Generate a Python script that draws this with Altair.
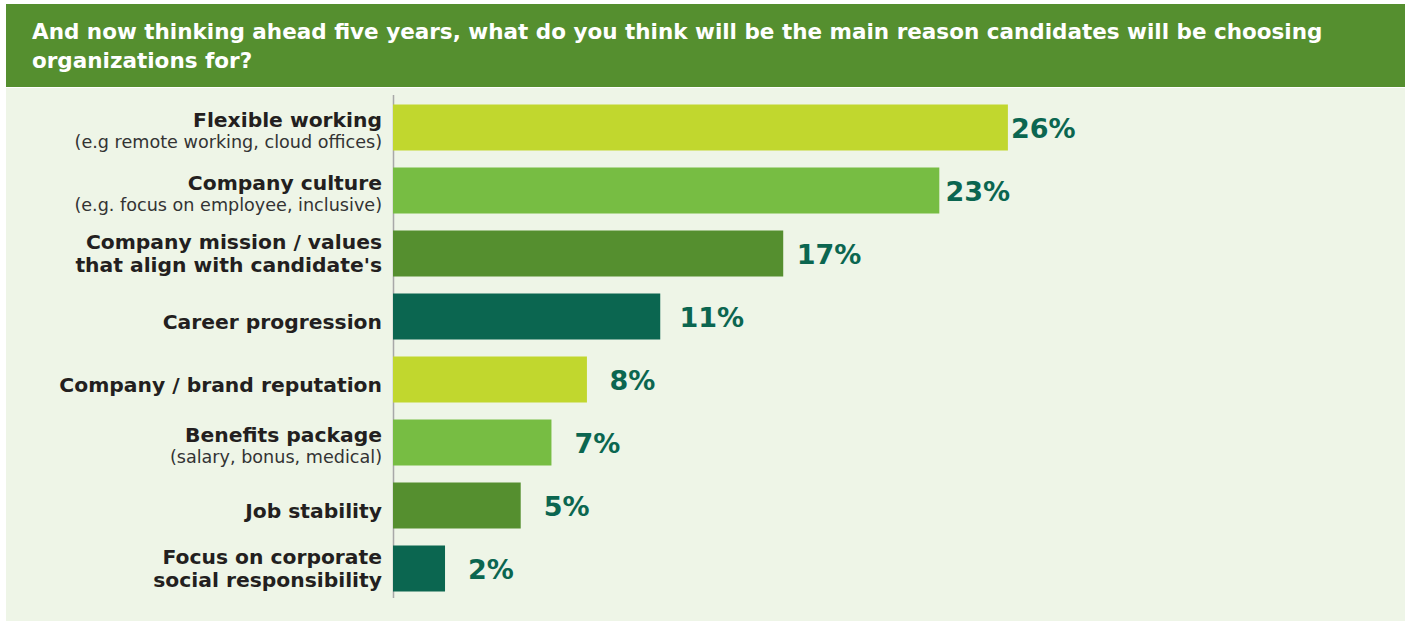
import altair as alt
import pandas as pd

# ---- data ----
main_labels = [
    "Flexible working",
    "Company culture",
    "Company mission / values\nthat align with candidate's",
    "Career progression",
    "Company / brand reputation",
    "Benefits package",
    "Job stability",
    "Focus on corporate\nsocial responsibility",
]
sub_labels = [
    "(e.g remote working, cloud offices)",
    "(e.g. focus on employee, inclusive)",
    "",
    "",
    "",
    "(salary, bonus, medical)",
    "",
    "",
]
values = [26.0, 23.1, 16.5, 11.3, 8.2, 6.7, 5.4, 2.2]
value_labels = ["26%", "23%", "17%", "11%", "8%", "7%", "5%", "2%"]
bar_colors = ["#c1d72e", "#77bd43", "#558f2f", "#0b6650",
              "#c1d72e", "#77bd43", "#558f2f", "#0b6650"]
title_lines = [
    "And now thinking ahead five years, what do you think will be the main reason candidates will be choosing",
    "organizations for?",
]

FONT = "DejaVu Sans"
TEAL = "#0b6650"
DARK = "#231f20"

df = pd.DataFrame({
    "main": main_labels,
    "sub": sub_labels,
    "v": values,
    "lab": value_labels,
    "col": bar_colors,
})
df["kind"] = [
    ("sub" if s else ("two" if "\n" in m else "one"))
    for m, s in zip(main_labels, sub_labels)
]

W, H = 946, 504
PAD_L, PAD_T = 393, 96

x_scale = alt.Scale(domain=[0, 40], nice=False, zero=True)
y_enc = alt.Y("main:N", sort=main_labels, axis=None,
              scale=alt.Scale(paddingInner=0.27, paddingOuter=0.135))

base = alt.Chart(df)

one = pd.DataFrame({"a": [0]})

bg = alt.Chart(one).mark_rect(color="#eef5e7").encode(
    x=alt.value(6 - PAD_L), x2=alt.value(1405 - PAD_L),
    y=alt.value(88 - PAD_T), y2=alt.value(621 - PAD_T),
)
title_bg = alt.Chart(one).mark_rect(color="#558f2f").encode(
    x=alt.value(6 - PAD_L), x2=alt.value(1405 - PAD_L),
    y=alt.value(4 - PAD_T), y2=alt.value(87 - PAD_T),
)
title_txt = alt.Chart(pd.DataFrame({"t": ["\n".join(title_lines)]})).mark_text(
    align="left", baseline="alphabetic", font=FONT, fontWeight="bold",
    fontSize=21.5, color="white", lineBreak="\n", lineHeight=29,
).encode(
    x=alt.value(32 - PAD_L), y=alt.value(39 - PAD_T), text="t:N",
)

axis_line = alt.Chart(one).mark_rule(color="#a8a8a8", strokeWidth=1.5).encode(
    x=alt.value(0.5), y=alt.value(-1), y2=alt.value(502),
)

bars = base.mark_bar().encode(
    x=alt.X("v:Q", scale=x_scale, axis=None),
    y=y_enc,
    color=alt.Color("col:N", scale=None, legend=None),
)

vals = base.transform_calculate(
    lx="datum.v + min(23, max(3, 3 + (26 - datum.v) * 1.1)) / 23.65"
).mark_text(
    align="left", baseline="middle", font="DejaVu Sans", fontWeight="bold",
    fontSize=27, color=TEAL, dy=2,
).encode(
    x=alt.X("lx:Q", scale=x_scale, axis=None),
    y=y_enc,
    text="lab:N",
)

def main_layer(kind, dy):
    return base.transform_filter(alt.datum.kind == kind).mark_text(
        align="right", baseline="alphabetic", font=FONT, fontWeight="bold",
        fontSize=20.3, color=DARK, lineBreak="\n", lineHeight=23, dy=dy,
    ).encode(x=alt.value(-11), y=y_enc, text="main:N")

subs = base.transform_filter(alt.datum.kind == "sub").mark_text(
    align="right", baseline="alphabetic", font=FONT, fontSize=17.6,
    color="#333333", dy=20,
).encode(x=alt.value(-11), y=y_enc, text="sub:N")

chart = alt.layer(
    bg, title_bg, title_txt, axis_line, bars, vals,
    main_layer("sub", -1), main_layer("one", 12), main_layer("two", -5), subs,
).properties(
    width=W, height=H,
    autosize=alt.AutoSizeParams(type="none"),
    padding={"left": PAD_L, "top": PAD_T, "right": 1405 - PAD_L - W, "bottom": 622 - PAD_T - H},
    background="white",
).configure_view(stroke=None)

chart.save("out.html", embed_options={"renderer": "svg", "actions": False})
